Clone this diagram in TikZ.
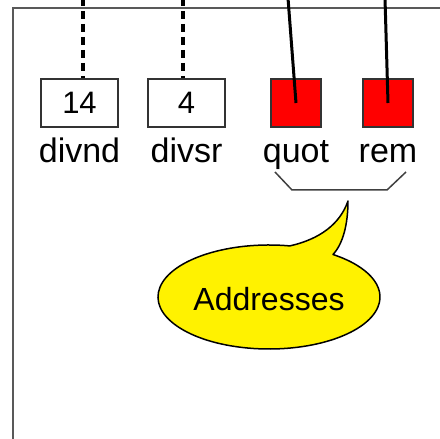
\documentclass[tikz,border=0pt]{standalone}
\usepackage{fontspec}
\setmainfont{Liberation Sans}
\begin{document}
\begin{tikzpicture}[x=1pt,y=1pt,
  valbox/.style={draw=black!80,line width=1.5pt,minimum width=77pt,minimum height=48pt,inner sep=0pt,font=\fontsize{31}{31}\selectfont},
  refbox/.style={draw=black!80,fill=red,line width=1.5pt,minimum width=50pt,minimum height=48pt,inner sep=0pt},
  lbl/.style={anchor=base,inner sep=0pt,font=\fontsize{34}{34}\selectfont},
  dashlink/.style={line width=3.5pt,dash pattern=on 8pt off 5pt},
  solidlink/.style={line width=3pt},
  frameline/.style={draw=black!65,line width=2pt}]
\useasboundingbox (0,0) rectangle (440,439);
% frame
\draw[frameline] (13,-2) -- (13,431) -- (442,431);
% boxes
\node[valbox] (b14) at (79.5,336) {14};
\node[valbox] (b4) at (186.5,336) {4};
\node[refbox] (bq) at (296,336) {};
\node[refbox] (br) at (388,336) {};
% labels
\node[lbl] (l14) at (79.5,276) {divnd};
\node[lbl] (l4) at (186.5,276) {divsr};
\node[lbl] (lq) at (296,276) {quot};
\node[lbl] (lr) at (388,276) {rem};
% links
\coordinate (t14) at (83,441);
\coordinate (t4) at (183,441);
\coordinate (tq) at (288,441);
\coordinate (tr) at (385,441);
\draw[dashlink] (t14) -- (t14 |- b14.north);
\draw[dashlink] (t4) -- (t4 |- b4.north);
\draw[solidlink] (tq) -- (bq.center);
\draw[solidlink] (tr) -- (br.center);
% bracket
\coordinate (k1) at (275,267);
\coordinate (k2) at (292,249);
\coordinate (k3) at (387,249);
\coordinate (k4) at (406,267);
\draw[black!75,line width=1.5pt] (k1) -- (k2) -- (k3) -- (k4);
% callout
\coordinate (ec) at (269,142);
\draw[fill=yellow,line width=1.5pt,line join=round]
  (ec) ++(79.1:111 and 52) arc[start angle=79.1,end angle=414.8,x radius=111,y radius=52]
  .. controls (343,195) and (348,215) .. (348,238)
  .. controls (340,215) and (320,200) .. (290,193.1) -- cycle;
\node[font=\fontsize{32}{32}\selectfont] (addr) at (269,140) {Addresses};
\end{tikzpicture}
\end{document}
